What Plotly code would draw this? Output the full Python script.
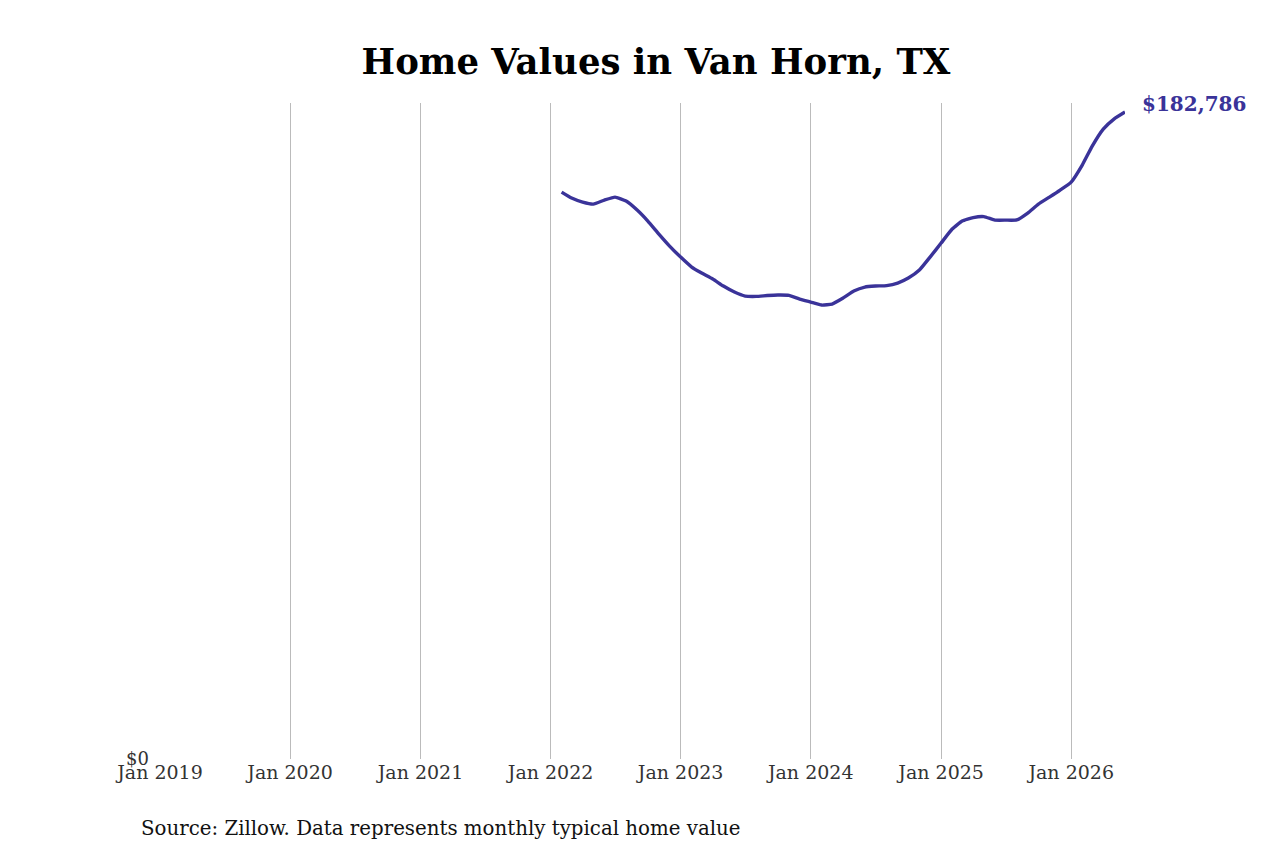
import plotly.graph_objects as go

months = [
    "2022-02-01", "2022-03-01", "2022-04-01", "2022-05-01", "2022-06-01", "2022-07-01",
    "2022-08-01", "2022-09-01", "2022-10-01", "2022-11-01", "2022-12-01",
    "2023-01-01", "2023-02-01", "2023-03-01", "2023-04-01", "2023-05-01", "2023-06-01",
    "2023-07-01", "2023-08-01", "2023-09-01", "2023-10-01", "2023-11-01", "2023-12-01",
    "2024-01-01", "2024-02-01", "2024-03-01", "2024-04-01", "2024-05-01", "2024-06-01",
    "2024-07-01", "2024-08-01", "2024-09-01", "2024-10-01", "2024-11-01", "2024-12-01",
    "2025-01-01", "2025-02-01", "2025-03-01", "2025-04-01", "2025-05-01", "2025-06-01",
    "2025-07-01", "2025-08-01", "2025-09-01", "2025-10-01", "2025-11-01", "2025-12-01",
    "2026-01-01", "2026-02-01", "2026-03-01", "2026-04-01", "2026-05-01", "2026-06-01",
]
home_values = [
    160178, 158483, 157353, 156788, 157918, 158765,
    157635, 155093, 151985, 148313, 144923,
    141815, 138990, 137295, 135600, 133623, 131928,
    130798, 130700, 130939, 131080, 131000, 129950,
    129103, 128255, 128538, 130233, 132210, 133340,
    133623, 133764, 134470, 135883, 138143, 141815,
    145770, 149725, 151985, 152974, 153256, 152268,
    152250, 152300, 154245, 156788, 158765, 160743,
    163003, 167805, 173173, 177975, 180800, 182786,
]
tick_dates = ["2019-01-01", "2020-01-01", "2021-01-01", "2022-01-01",
              "2023-01-01", "2024-01-01", "2025-01-01", "2026-01-01"]
tick_labels = ["Jan 2019", "Jan 2020", "Jan 2021", "Jan 2022",
               "Jan 2023", "Jan 2024", "Jan 2025", "Jan 2026"]
title_text = "Home Values in Van Horn, TX"
source_text = "Source: Zillow. Data represents monthly typical home value"
line_color = "#3a3399"

W, H = 1280, 853
ML, MR, MT, MB = 152, 163, 95, 102
PW, PH = W - ML - MR, H - MT - MB

fig = go.Figure()
fig.add_trace(go.Scatter(
    x=months, y=home_values, mode="lines",
    line=dict(color=line_color, width=3.4, shape="spline", smoothing=0.4),
    hoverinfo="skip", showlegend=False,
))

fig.add_annotation(
    x=months[-1], y=home_values[-1], xref="x", yref="y",
    text="<b>${:,}</b>".format(home_values[-1]),
    showarrow=False, xanchor="left", yanchor="middle",
    xshift=15, yshift=8,
    font=dict(family="DejaVu Serif", size=20, color=line_color),
)
fig.add_annotation(
    x=(131 - ML) / PW, y=-(820 - (H - MB)) / PH, xref="paper", yref="paper",
    text=source_text,
    showarrow=False, xanchor="left", yanchor="middle",
    font=dict(family="DejaVu Serif", size=19.8, color="#111111"),
)

ymax = home_values[-1] * 1.014
fig.update_layout(
    width=W, height=H,
    paper_bgcolor="white", plot_bgcolor="white",
    margin=dict(l=ML, r=MR, t=MT, b=MB),
    title=dict(text="<b>" + title_text + "</b>", x=0.5 + 8 / W, xanchor="center",
               y=1 - 54 / H, yanchor="middle",
               font=dict(family="DejaVu Serif", size=35.5, color="#000000")),
    font=dict(family="DejaVu Serif", color="#333333"),
    xaxis=dict(
        type="date", range=["2019-01-01", "2026-06-01"],
        tickvals=tick_dates, ticktext=tick_labels,
        showgrid=True, gridcolor="#bbbbbb", gridwidth=1,
        zeroline=False, showline=False, ticks="",
        tickfont=dict(family="DejaVu Serif", size=19, color="#333333"),
    ),
    yaxis=dict(
        range=[0, ymax], tickvals=[0], ticktext=["$0"],
        showgrid=False, zeroline=False, showline=False, ticks="",
        ticklabelstandoff=10,
        tickfont=dict(family="DejaVu Serif", size=18, color="#333333"),
    ),
)

fig.write_html("out.html")
